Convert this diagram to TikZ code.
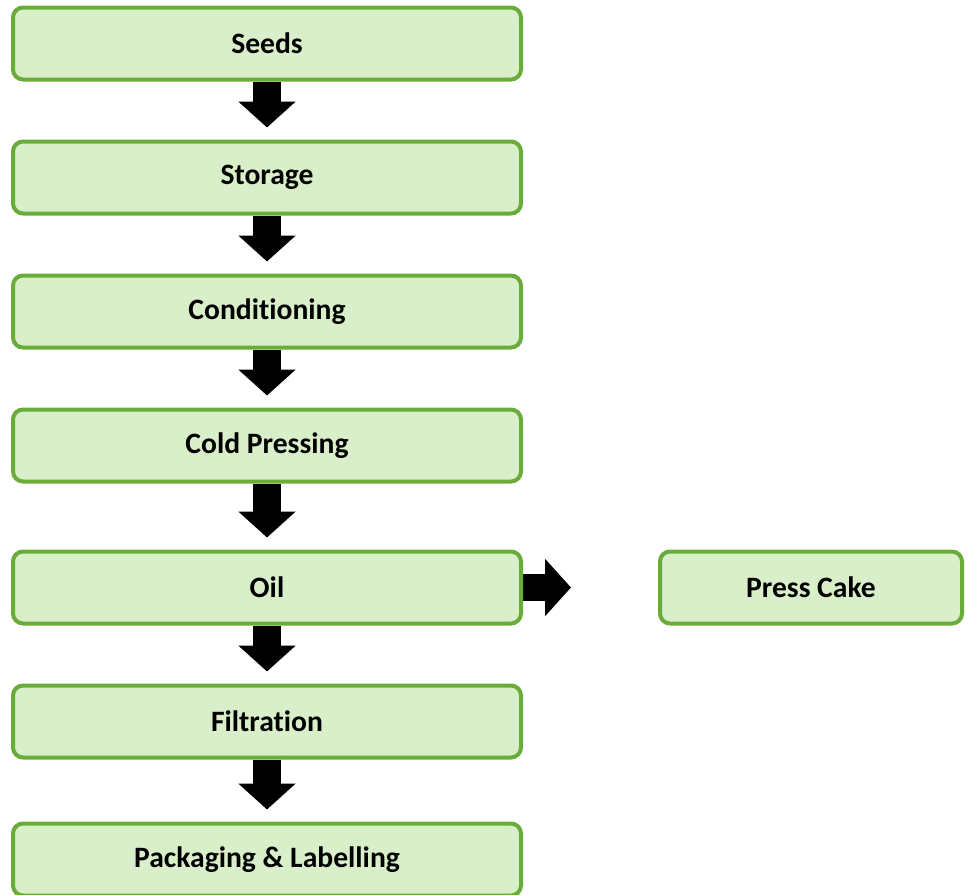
\documentclass[tikz,border=0pt]{standalone}
\usepackage{fontspec}
\setmainfont{Carlito}[Ligatures=NoCommon]
\usetikzlibrary{positioning,arrows.meta,backgrounds}
\definecolor{stepfill}{RGB}{216,239,201}
\definecolor{stepline}{RGB}{106,172,58}
\begin{document}
\begin{tikzpicture}[
          x = 1pt, y = -1pt,
          stage/.style = {draw=stepline, fill=stepfill, line width=4pt, rounded corners=10pt,
                          minimum width=508pt, minimum height=72pt,
                          font=\fontsize{29.6}{34}\selectfont\bfseries},
          side/.style = {stage, minimum width=302pt},
          flow/.style = {line width=28pt, -{Triangle[width=56pt,length=26pt]}, shorten >=12pt},
          node distance = 58pt,
        ]
        \useasboundingbox (0,0) rectangle (971,894);
        \node[stage] (seeds) at (267,43.5) {Seeds};
        \node[stage,below=of seeds] (storage) {Storage};
        \node[stage,below=of storage] (cond) {Conditioning};
        \node[stage,below=of cond] (press) {Cold Pressing};
        \node[stage,below=66pt of press] (oil) {Oil};
        \node[stage,below=of oil] (filt) {Filtration};
        \node[stage,below=62pt of filt] (pack) {Packaging \& Labelling};
        \node[side,right=135pt of oil] (cake) {Press Cake};
        \begin{scope}[on background layer]
          \draw[flow] (seeds) -- (storage);
          \draw[flow] (storage) -- (cond);
          \draw[flow] (cond) -- (press);
          \draw[flow] (press) -- (oil);
          \draw[flow] (oil) -- (filt);
          \draw[flow] (filt) -- (pack);
          \draw[flow,line width=27pt,shorten >=87pt] (oil) -- (cake);
        \end{scope}
      \end{tikzpicture}
\end{document}
